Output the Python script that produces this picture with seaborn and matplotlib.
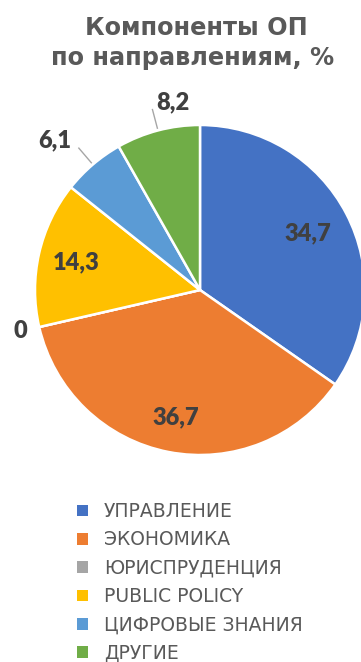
import numpy as np
import matplotlib
matplotlib.use("Agg")
import matplotlib.pyplot as plt
import seaborn as sns

sns.set_theme(style="white")
plt.rcParams["font.family"] = ["DejaVu Sans"]

# Shares of the programme components by field, %
categories = ["УПРАВЛЕНИЕ", "ЭКОНОМИКА", "ЮРИСПРУДЕНЦИЯ", "PUBLIC POLICY",
              "ЦИФРОВЫЕ ЗНАНИЯ", "ДРУГИЕ"]
values = [34.7, 36.7, 0.0, 14.3, 6.1, 8.2]
value_labels = ["34,7", "36,7", "0", "14,3", "6,1", "8,2"]
colors = ["#4472C4", "#ED7D31", "#A5A5A5", "#FFC000", "#5B9BD5", "#70AD47"]

W, H = 361, 662
fig = plt.figure(figsize=(W / 100, H / 100), dpi=100)
fig.patch.set_facecolor("white")

# pie area: centre (200, 290) px from top-left, radius 165 px
R = 165
cx, cy = 200, 290
ax = fig.add_axes([(cx - R) / W, (H - cy - R) / H, 2 * R / W, 2 * R / H])
wedges, _ = ax.pie(values, colors=colors, startangle=90, counterclock=False,
                   radius=1.0,
                   wedgeprops=dict(edgecolor="white", linewidth=1.8))
ax.set_xlim(-1, 1)
ax.set_ylim(-1, 1)
ax.set_aspect("equal")
ax.axis("off")

label_color = "#404040"
label_kw = dict(fontsize=17, fontweight="heavy", color=label_color,
                family=["Lato", "DejaVu Sans"])

# label placement: (mode, radius fraction)
placement = {0: ("in", 0.74), 1: ("in", 0.785), 2: ("in", 1.115),
             3: ("in", 0.77), 4: ("lead_r", None), 5: ("lead_l", None)}

for i, w in enumerate(wedges):
    mid = np.deg2rad((w.theta1 + w.theta2) / 2)
    mode, r = placement[i]
    ux, uy = np.cos(mid), np.sin(mid)
    if mode == "in":
        ax.text(r * ux, r * uy, value_labels[i], ha="center", va="center",
                **label_kw)
    else:
        r0, r1 = 1.01, 1.135
        ax.plot([r0 * ux, r1 * ux], [r0 * uy, r1 * uy], color="#A6A6A6",
                lw=1.0, solid_capstyle="butt", clip_on=False)
        ex, ey = r1 * ux, r1 * uy
        if mode == "lead_l":
            ax.text(ex + 4 / R, ey, value_labels[i], ha="left",
                    va="baseline", **label_kw)
        else:
            ax.text(ex - 7 / R, ey, value_labels[i], ha="right",
                    va="baseline", **label_kw)

# title
title_kw = dict(fontsize=17.3, fontweight="bold", color="#595959",
                family=["DejaVu Sans"], ha="center", va="baseline")
fig.text(196 / W, 1 - 35 / H, "Компоненты ОП", **title_kw)
fig.text(193 / W, 1 - 65 / H, "по направлениям, %", **title_kw)

# legend
leg = fig.legend(wedges, categories, loc="upper left",
                 bbox_to_anchor=(77 / W, 1 - 502 / H),
                 frameon=False, fontsize=13.5,
                 handlelength=0.57, handleheight=0.57, handletextpad=0.88,
                 labelspacing=0.5, borderpad=0, borderaxespad=0)
for t in leg.get_texts():
    t.set_color("#595959")
for h in leg.legend_handles:
    h.set_linewidth(0)

fig.savefig("out.png", dpi=100, facecolor="white")
